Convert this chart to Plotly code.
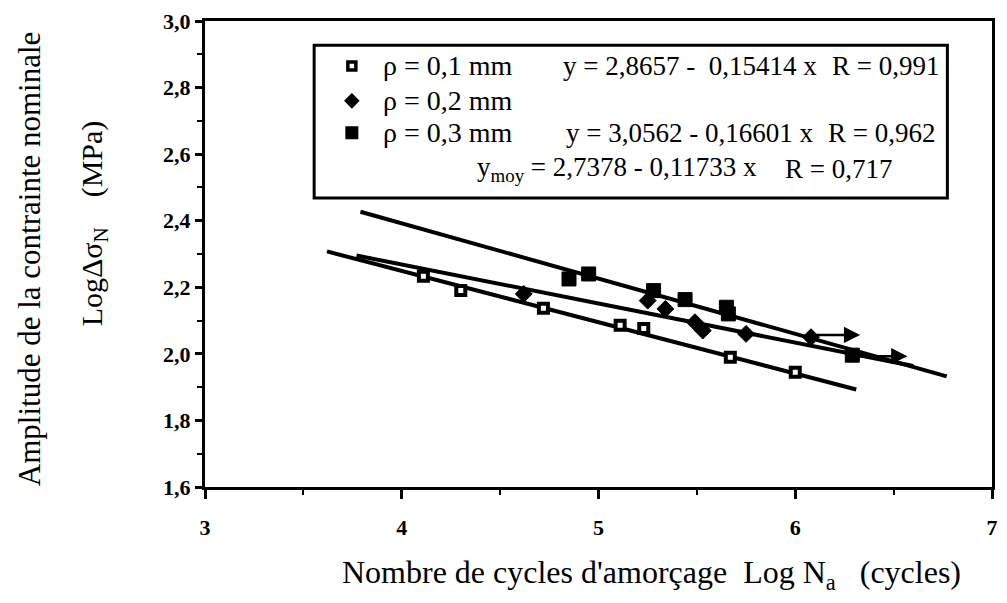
import plotly.graph_objects as go

# ---- data ----
x_r01 = [4.11, 4.30, 4.72, 5.11, 5.23, 5.67, 6.00]
y_r01 = [2.233, 2.19, 2.137, 2.086, 2.076, 1.99, 1.945]

x_r02 = [4.62, 5.25, 5.34, 5.49, 5.53, 5.75, 6.08]
y_r02 = [2.18, 2.16, 2.135, 2.095, 2.07, 2.06, 2.05]

x_r03 = [4.85, 4.95, 5.28, 5.44, 5.65, 5.66, 6.29]
y_r03 = [2.225, 2.24, 2.19, 2.163, 2.14, 2.12, 1.996]

# regression lines: intercept, slope, x-range
fit_r01 = (2.8657, -0.15414, 3.62, 6.31)
fit_r03 = (3.0562, -0.16601, 3.79, 6.77)
fit_moy = (2.7378, -0.11733, 3.77, 6.60)

# run-out arrows (start x, end x, y)
runout_x0 = [6.08, 6.29]
runout_x1 = [6.33, 6.57]
runout_y = [2.057, 1.993]

legend_labels = ["ρ = 0,1 mm", "ρ = 0,2 mm", "ρ = 0,3 mm"]
eq_r01 = "y = 2,8657 -\u00a0 0,15414 x"
eq_r03 = "y = 3,0562 - 0,16601 x"
eq_moy = "y<sub>moy</sub> = 2,7378 - 0,11733 x"
r_r01, r_r03, r_moy = "R = 0,991", "R = 0,962", "R = 0,717"

FONT = "Liberation Serif"

fig = go.Figure()

for a, b, x0, x1 in (fit_r01, fit_r03, fit_moy):
    fig.add_trace(go.Scatter(x=[x0, x1], y=[a + b * x0, a + b * x1], mode="lines",
                             line=dict(color="black", width=4), hoverinfo="skip"))

fig.add_trace(go.Scatter(x=x_r01, y=y_r01, mode="markers",
                         marker=dict(symbol="square", size=9, color="white",
                                     line=dict(color="black", width=4))))
fig.add_trace(go.Scatter(x=x_r02, y=y_r02, mode="markers",
                         marker=dict(symbol="diamond", size=13, color="black",
                                     line=dict(color="black", width=1))))
fig.add_trace(go.Scatter(x=x_r03, y=y_r03, mode="markers",
                         marker=dict(symbol="square", size=14, color="black",
                                     line=dict(color="black", width=1))))

# legend keys on an overlay axis (0..1 of plot area)
leg_y = [0.9036, 0.8287, 0.7602]
leg_x = 0.1866
fig.add_trace(go.Scatter(x=[leg_x], y=[leg_y[0]], xaxis="x2", yaxis="y2", mode="markers",
                         marker=dict(symbol="square", size=8, color="white",
                                     line=dict(color="black", width=3.5))))
fig.add_trace(go.Scatter(x=[leg_x], y=[leg_y[1]], xaxis="x2", yaxis="y2", mode="markers",
                         marker=dict(symbol="diamond", size=12, color="black")))
fig.add_trace(go.Scatter(x=[leg_x], y=[leg_y[2]], xaxis="x2", yaxis="y2", mode="markers",
                         marker=dict(symbol="square", size=13, color="black")))

annotations = []
for x0, x1, y in zip(runout_x0, runout_x1, runout_y):
    annotations.append(dict(x=x1, y=y, ax=x0, ay=y, xref="x", yref="y", axref="x", ayref="y",
                            showarrow=True, arrowhead=2, arrowsize=1.3, arrowwidth=2.5,
                            arrowcolor="black", text=""))

def txt(x, y, t, size=27, **kw):
    d = dict(x=x, y=y, xref="paper", yref="paper", text=t, showarrow=False,
             xanchor="left", yanchor="middle", font=dict(family=FONT, size=size, color="black"))
    d.update(kw)
    annotations.append(d)

txt(0.2232, leg_y[0], legend_labels[0], size=28)
txt(0.2232, leg_y[1], legend_labels[1], size=28)
txt(0.2232, leg_y[2], legend_labels[2], size=28)
txt(0.452, leg_y[0], eq_r01)
txt(0.7945, leg_y[0], r_r01)
txt(0.4565, leg_y[2], eq_r03)
txt(0.789, leg_y[2], r_r03)
txt(0.343, 0.6831, eq_moy)
txt(0.734, 0.6831, r_moy)

# axis titles
txt(0.5675, -0.188, "Nombre de cycles d'amorçage\u00a0\u00a0Log N<sub>a</sub>\u00a0\u00a0\u00a0(cycles)",
    size=32, xanchor="center")
txt(-0.223, 0.490, "Amplitude de la contrainte nominale", size=31, xanchor="center", textangle=-90)
txt(-0.141, 0.566, "Log\u0394\u03c3<sub>N</sub>\u00a0\u00a0\u00a0\u00a0(MPa)", size=30,
    xanchor="center", textangle=-90)

# page body has an 8px margin: size/margins chosen so the plot area lands at
# x 205..998, y 20..487 of the window
fig.update_layout(
    width=991, height=587,
    margin=dict(l=197, r=1, t=12, b=108),
    plot_bgcolor="white", paper_bgcolor="white",
    separators=", ",
    showlegend=False,
    font=dict(family=FONT, color="black"),
    annotations=annotations,
    shapes=[dict(type="rect", xref="paper", yref="paper", x0=0.1387, x1=0.9433,
                 y0=0.620, y1=0.948, line=dict(color="black", width=3))],
    xaxis=dict(range=[3, 7], dtick=1, tick0=3, showgrid=False, zeroline=False,
               showline=True, linewidth=3, linecolor="black", mirror=True,
               ticks="outside", ticklen=9, tickwidth=3, tickcolor="black",
               minor=dict(dtick=0.5, ticks="outside", ticklen=5, tickwidth=2, tickcolor="black"),
               tickfont=dict(family=FONT, size=22, color="black", weight="bold"),
               ticklabelstandoff=10, ticklabeloverflow="allow"),
    yaxis=dict(range=[1.6, 3.0], dtick=0.2, tick0=1.6, tickformat=".1f", showgrid=False,
               zeroline=False, showline=True, linewidth=3, linecolor="black", mirror=True,
               ticks="outside", ticklen=7, tickwidth=3, tickcolor="black",
               minor=dict(dtick=0.1, ticks="outside", ticklen=5, tickwidth=2, tickcolor="black"),
               tickfont=dict(family=FONT, size=22, color="black", weight="bold"),
               ticklabeloverflow="allow"),
    xaxis2=dict(range=[0, 1], overlaying="x", visible=False, fixedrange=True),
    yaxis2=dict(range=[0, 1], overlaying="y", visible=False, fixedrange=True),
)

fig.write_html("out.html")
